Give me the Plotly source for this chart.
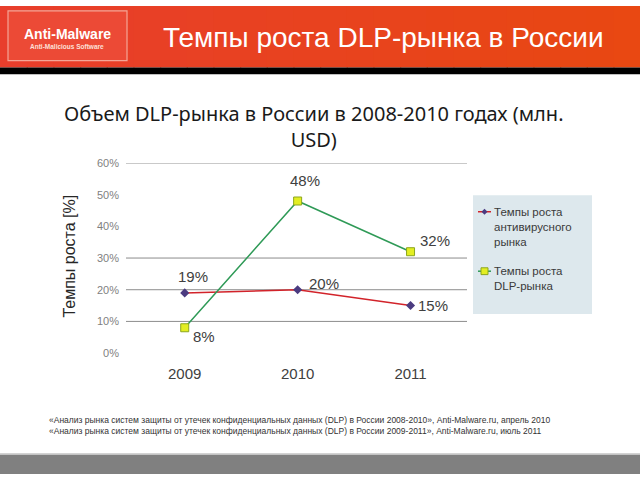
import plotly.graph_objects as go

years = ["2009", "2010", "2011"]
antivirus = [0.19, 0.20, 0.15]
dlp = [0.08, 0.48, 0.32]
y_ticks = [0, 0.1, 0.2, 0.3, 0.4, 0.5, 0.6]
y_tick_labels = ["0%", "10%", "20%", "30%", "40%", "50%", "60%"]
grid_values = [0.1, 0.2, 0.3, 0.6]

W, H = 640, 480
def px(x): return x / W
def py(y): return 1 - y / H

fig = go.Figure()
fig.add_trace(go.Scatter(x=years, y=antivirus, mode="lines+markers",
                         line=dict(color="#d2232a", width=1.5),
                         marker=dict(symbol="diamond", size=7, color="#4b3b80"),
                         name="Темпы роста антивирусного рынка"))
fig.add_trace(go.Scatter(x=years, y=dlp, mode="lines+markers",
                         line=dict(color="#2f9a57", width=1.5),
                         marker=dict(symbol="square", size=8, color="#e3ee22",
                                     line=dict(color="#8ca61e", width=1)),
                         name="Темпы роста DLP-рынка"))

shapes = []
# header gradient
n = 24
c0 = (232, 62, 44)
c1 = (233, 72, 18)
for i in range(n):
    t = i / (n - 1)
    c = tuple(int(c0[k] + (c1[k] - c0[k]) * t) for k in range(3))
    shapes.append(dict(type="rect", xref="paper", yref="paper",
                       x0=i / n, x1=(i + 1) / n + 0.002, y0=py(63), y1=1,
                       fillcolor="rgb(%d,%d,%d)" % c, line=dict(width=0), layer="below"))
shapes.append(dict(type="rect", xref="paper", yref="paper", x0=0, x1=1, y0=py(70), y1=py(63),
                   fillcolor="#000000", line=dict(width=0), layer="below"))
# logo box
shapes.append(dict(type="rect", xref="paper", yref="paper", x0=px(8), x1=px(127), y0=py(56), y1=py(5),
                   fillcolor="#ec4a36", line=dict(color="#f4a596", width=1.2), layer="below"))
# footer band
shapes.append(dict(type="rect", xref="paper", yref="paper", x0=0, x1=1, y0=0, y1=py(460),
                   fillcolor="#808080", line=dict(width=0), layer="below"))
shapes.append(dict(type="line", xref="paper", yref="paper", x0=0, x1=1, y0=py(459.5), y1=py(459.5),
                   line=dict(color="#c4c4c4", width=1.5)))
# gridlines
for g in grid_values:
    shapes.append(dict(type="line", xref="x domain", yref="y", x0=0, x1=1, y0=g, y1=g,
                       line=dict(color="#8c8c8c", width=1), layer="below"))
# legend box
shapes.append(dict(type="rect", xref="paper", yref="paper", x0=px(473), x1=px(592), y0=py(316), y1=py(194),
                   fillcolor="#dde8ed", line=dict(width=0), layer="below"))
# legend glyphs
shapes.append(dict(type="line", xref="paper", yref="paper", x0=px(478), x1=px(491), y0=py(211), y1=py(211),
                   line=dict(color="#d2232a", width=1.5)))
shapes.append(dict(type="path", xref="paper", yref="paper",
                   path="M %f %f L %f %f L %f %f L %f %f Z" % (px(484.5), py(208), px(487.5), py(211),
                                                              px(484.5), py(214), px(481.5), py(211)),
                   fillcolor="#4b3b80", line=dict(width=0)))
shapes.append(dict(type="line", xref="paper", yref="paper", x0=px(478), x1=px(491), y0=py(272), y1=py(272),
                   line=dict(color="#2f9a57", width=1.5)))
shapes.append(dict(type="rect", xref="paper", yref="paper", x0=px(481), x1=px(488), y0=py(275.5), y1=py(268.5),
                   fillcolor="#e3ee22", line=dict(color="#8ca61e", width=1)))

def label(text, x, y, size, color="#1a1a1a", family="Liberation Sans, Arial", xa="center", ya="middle", **kw):
    d = dict(text=text, x=px(x), y=py(y), xref="paper", yref="paper", showarrow=False,
             xanchor=xa, yanchor=ya, font=dict(family=family, size=size, color=color))
    d.update(kw)
    return d

ann = []
a = label("Anti-Malware", 67, 29, 14, "white")
a["font"]["weight"] = "bold"
ann.append(a)
a = label("Anti-Malicious Software", 67, 42, 6.5, "#fde0d8")
a["font"]["weight"] = "bold"
ann.append(a)
ann.append(label("Темпы роста DLP-рынка в России", 383, 32, 28, "white"))
ann.append(label("Объем DLP-рынка в России в 2008-2010 годах (млн.<br>USD)", 314, 124, 20,
                 family="Noto Sans", align="center"))
ann.append(label("Темпы роста [%]", 70, 257, 16, "#262626", textangle=-90))
# legend text
ann.append(label("Темпы роста<br>антивирусного<br>рынка", 492, 203, 11.5, "#3a3a3a", xa="left", ya="top", align="left"))
ann.append(label("Темпы роста<br>DLP-рынка", 492, 264, 11.5, "#3a3a3a", xa="left", ya="top", align="left"))
# data labels
av_off = [(8, 16), (26, 6), (22, 0)]
dlp_off = [(19, -9), (7, 21), (24, 11)]
for ser, offs in ((antivirus, av_off), (dlp, dlp_off)):
    for i, (yv, (dx, dy)) in enumerate(zip(ser, offs)):
        ann.append(dict(text="%d%%" % round(yv * 100), x=i, y=yv, xref="x", yref="y",
                        xshift=dx, yshift=dy, showarrow=False, xanchor="center", yanchor="middle",
                        font=dict(family="Liberation Sans, Arial", size=15, color="#404040")))
# footer notes
ann.append(label("«Анализ рынка систем защиты от утечек конфиденциальных данных (DLP) в России 2008-2010», Anti-Malware.ru, апрель 2010",
                 47, 425, 8.5, "#333333", xa="left"))
ann.append(label("«Анализ рынка систем защиты от утечек конфиденциальных данных (DLP) в России 2009-2011», Anti-Malware.ru, июль 2011",
                 47, 436, 8.5, "#333333", xa="left"))

fig.update_layout(
    width=W, height=H, margin=dict(l=0, r=0, t=0, b=0),
    paper_bgcolor="white", plot_bgcolor="white", showlegend=False,
    shapes=shapes, annotations=ann,
    xaxis=dict(domain=[px(126), px(467)], type="category", range=[-0.52, 2.5],
               showgrid=False, zeroline=False, showline=False, ticks="",
               tickfont=dict(family="Liberation Sans, Arial", size=15, color="#404040"),
               ticklabelstandoff=10),
    yaxis=dict(domain=[py(356), py(161)], range=[0, 0.6], tickvals=y_ticks, ticktext=y_tick_labels,
               showgrid=False, zeroline=False, showline=False, ticks="",
               tickfont=dict(family="Liberation Sans, Arial", size=11, color="#7f7f7f"),
               ticklabelstandoff=6),
)
fig.write_html("out.html", config={"displayModeBar": False},
               post_script="document.body.style.margin='0';document.body.style.overflow='hidden';")
